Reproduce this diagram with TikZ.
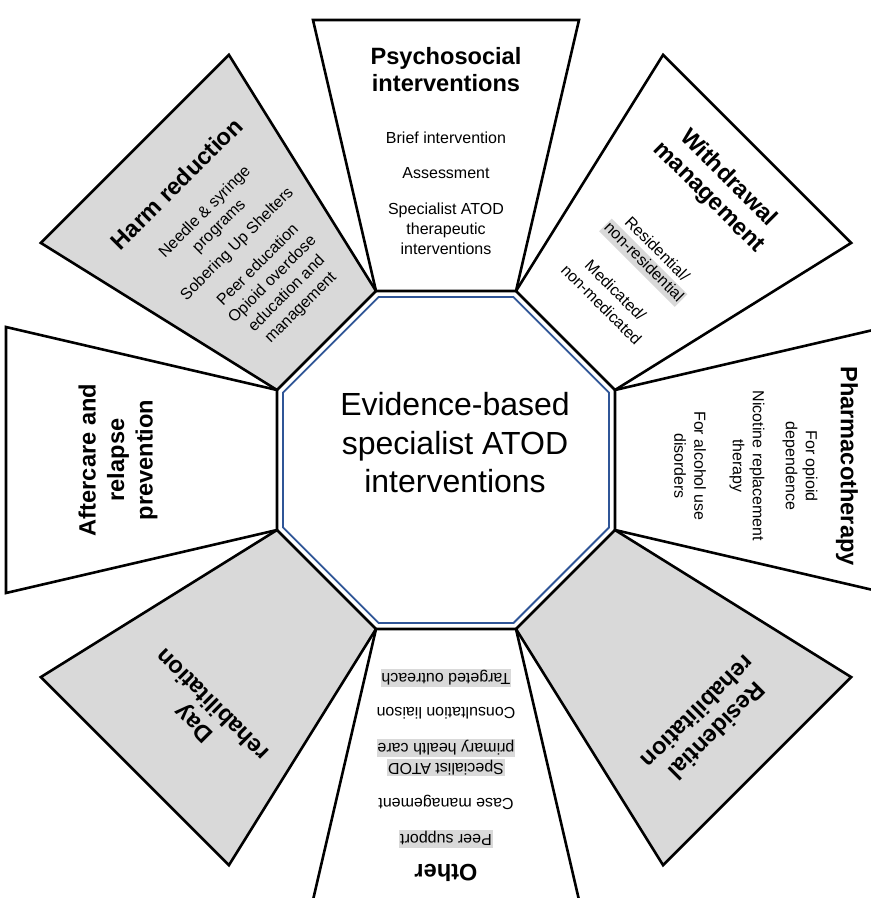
\documentclass[tikz,border=0pt]{standalone}
\usepackage{fontspec}
\setmainfont{Liberation Sans}
\definecolor{hl}{HTML}{D9D9D9}
\definecolor{octblue}{HTML}{2F5597}
\tikzset{
  trapline/.style={draw=black, line width=2.6pt, line join=miter},
  trapgray/.style={trapline, fill=hl},
  trapwhite/.style={trapline, fill=white},
  ttl/.style={font=\fontsize{23.6}{27}\selectfont\bfseries, align=center, inner sep=0pt},
  body/.style={font=\fontsize{16}{20}\selectfont, align=center, inner sep=0pt},
  hlt/.style={font=\fontsize{16}{20}\selectfont, fill=hl, inner xsep=1pt, inner ysep=1pt, text height=12pt, text depth=3.8pt},
  centre/.style={font=\fontsize{32}{38.5}\selectfont, align=center, inner sep=0pt},
  sector/.style={shift={(446,-460)}, rotate=#1, transform shape},
}
\newcommand{\trapath}{(-70,169) -- (70,169) -- (133,440) -- (-133,440) -- cycle}
\begin{document}
\begin{tikzpicture}[x=1pt,y=1pt]
\useasboundingbox (0,0) rectangle (871,-898);
\clip (0,0) rectangle (871,-898);
\fill[white] (0,0) rectangle (871,-898);

% Psychosocial interventions (top)
\begin{scope}[sector=0]
  \draw[trapwhite] \trapath;
  \node[ttl] (psyT) at (0,390) {Psychosocial\\interventions};
  \node[body] (psy1) at (0,322) {Brief intervention};
  \node[body] (psy2) at (0,287) {Assessment};
  \node[body] (psy3) at (0,231) {Specialist ATOD\\therapeutic\\interventions};
\end{scope}

% Withdrawal management
\begin{scope}[sector=-45]
  \draw[trapwhite] \trapath;
  \node[ttl] (wdT) at (0,385) {Withdrawal\\management};
  \node[body] (wd1) at (0,299) {Residential/};
  \node[hlt] (wd2) at (0,279) {non-residential};
  \node[body] (wd3) at (0,230) {Medicated/\\non-medicated};
\end{scope}

% Pharmacotherapy
\begin{scope}[sector=-90]
  \draw[trapwhite] \trapath;
  \node[ttl] (phT) at (6,401) {Pharmacotherapy};
  \node[body] (ph1) at (6,354) {For opioid\\dependence};
  \node[body] (ph2) at (6,301) {Nicotine replacement\\therapy};
  \node[body] (ph3) at (6,244) {For alcohol use\\disorders};
\end{scope}

% Residential rehabilitation
\begin{scope}[sector=-135]
  \draw[trapgray] \trapath;
  \node[ttl] (rrT) at (0,370) {Residential\\rehabilitation};
\end{scope}

% Other
\begin{scope}[sector=180]
  \draw[trapwhite] \trapath;
  \node[ttl] (otT) at (0,413) {Other};
  \node[hlt] (ot1) at (0,379) {Peer support};
  \node[body] (ot2) at (0,342) {Case management};
  \node[hlt] (ot3) at (0,307.5) {Specialist ATOD};
  \node[hlt] (ot4) at (0,288) {primary health care};
  \node[body] (ot5) at (0,253) {Consultation liaison};
  \node[hlt] (ot6) at (0,218) {Targeted outreach};
\end{scope}

% Day rehabilitation
\begin{scope}[sector=135]
  \draw[trapgray] \trapath;
  \node[ttl] (drT) at (-8,352) {Day\\rehabilitation};
\end{scope}

% Aftercare and relapse prevention
\begin{scope}[sector=90]
  \draw[trapwhite] \trapath;
  \node[ttl, font=\fontsize{23.6}{28.5}\selectfont\bfseries] (acT) at (0,328) {Aftercare and\\relapse\\prevention};
\end{scope}

% Harm reduction
\begin{scope}[sector=45]
  \draw[trapgray] \trapath;
  \node[ttl] (hrT) at (5,386) {Harm reduction};
  \node[body] (hr1) at (5,335.5) {Needle \& syringe\\programs};
  \node[body] (hr2) at (5,300) {Sobering Up Shelters};
  \node[body] (hr3) at (5,272) {Peer education};
  \node[body] (hr4) at (5,230) {Opioid overdose\\education and\\management};
\end{scope}

% Central octagon
\begin{scope}[shift={(446,-460)}]
  \draw[octblue, line width=1.8pt, line join=miter]
    (22.5:176.4) -- (67.5:176.4) -- (112.5:176.4) -- (157.5:176.4) --
    (202.5:176.4) -- (247.5:176.4) -- (292.5:176.4) -- (337.5:176.4) -- cycle;
\end{scope}
\node[centre] (core) at (455,-443) {Evidence-based\\specialist ATOD\\interventions};
\end{tikzpicture}
\end{document}
